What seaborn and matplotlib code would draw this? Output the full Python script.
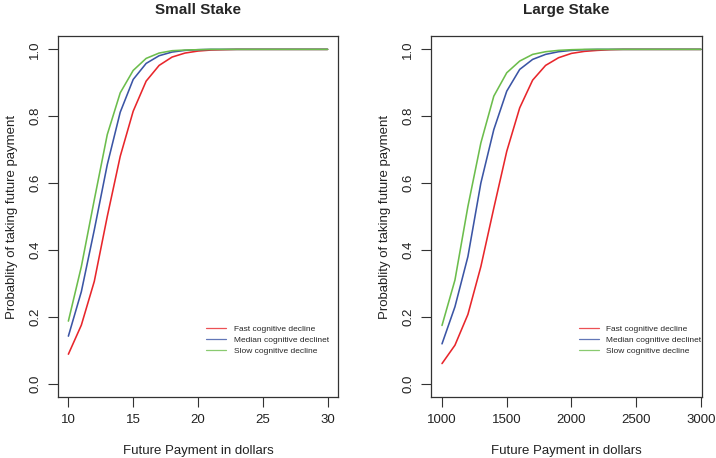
import pandas as pd
import matplotlib.pyplot as plt
import seaborn as sns
import numpy as np

# future payment amounts (x)
small_x = list(range(10, 31))
large_x = list(range(1000, 3001, 100))

# probability of taking future payment
small_fast = [0.088, 0.175, 0.306, 0.50, 0.68, 0.815, 0.905, 0.952, 0.977, 0.989, 0.995,
              0.998, 0.999, 1.0, 1.0, 1.0, 1.0, 1.0, 1.0, 1.0, 1.0]
small_median = [0.142, 0.275, 0.46, 0.655, 0.812, 0.91, 0.958, 0.981, 0.992, 0.997, 0.999,
                1.0, 1.0, 1.0, 1.0, 1.0, 1.0, 1.0, 1.0, 1.0, 1.0]
small_slow = [0.187, 0.35, 0.55, 0.745, 0.87, 0.937, 0.973, 0.989, 0.996, 0.998, 0.999,
              1.0, 1.0, 1.0, 1.0, 1.0, 1.0, 1.0, 1.0, 1.0, 1.0]

large_fast = [0.06, 0.115, 0.207, 0.35, 0.525, 0.695, 0.825, 0.908, 0.952, 0.975, 0.988,
              0.994, 0.997, 0.999, 1.0, 1.0, 1.0, 1.0, 1.0, 1.0, 1.0]
large_median = [0.119, 0.23, 0.38, 0.6, 0.76, 0.875, 0.94, 0.97, 0.985, 0.993, 0.997,
                0.999, 1.0, 1.0, 1.0, 1.0, 1.0, 1.0, 1.0, 1.0, 1.0]
large_slow = [0.174, 0.31, 0.53, 0.72, 0.86, 0.93, 0.965, 0.985, 0.993, 0.997, 0.999,
              1.0, 1.0, 1.0, 1.0, 1.0, 1.0, 1.0, 1.0, 1.0, 1.0]

groups = ["Fast cognitive decline", "Median cognitive declinet", "Slow cognitive decline"]
colors = ["#E8262B", "#3B55A5", "#6CBD4C"]
titles = ["Small Stake", "Large Stake"]


def long_df(x, series):
    frames = []
    for name, vals in zip(groups, series):
        frames.append(pd.DataFrame({"x": x, "p": vals, "group": name}))
    return pd.concat(frames, ignore_index=True)


df_small = long_df(small_x, [small_fast, small_median, small_slow])
df_large = long_df(large_x, [large_fast, large_median, large_slow])

sns.set_style("white")
plt.rcParams['font.family'] = ['Liberation Sans', 'DejaVu Sans']

fig = plt.figure(figsize=(7.16, 4.58), dpi=100)
ax1 = fig.add_axes([58 / 716, 1 - 397 / 458, 280 / 716, 361 / 458])
ax2 = fig.add_axes([431 / 716, 1 - 397 / 458, 271 / 716, 361 / 458])

panels = [(ax1, df_small, (9.2, 30.8), [10, 15, 20, 25, 30], 0.53),
          (ax2, df_large, (915, 3008), [1000, 1500, 2000, 2500, 3000], 0.546)]

for (ax, df, xlim, xt, legx), title in zip(panels, titles):
    sns.lineplot(data=df, x="x", y="p", hue="group", palette=colors,
                 linewidth=1.15, ax=ax)
    ax.set_xlim(*xlim)
    ax.set_ylim(-0.04, 1.04)
    ax.set_xticks(xt)
    ax.set_yticks([0.0, 0.2, 0.4, 0.6, 0.8, 1.0])
    ax.set_yticklabels(["0.0", "0.2", "0.4", "0.6", "0.8", "1.0"], rotation=90, va="center")
    ax.tick_params(axis="both", direction="out", length=7, width=0.8, color="#333333",
                   labelsize=9.5, labelcolor="#222222", bottom=True, left=True, pad=5)
    for s in ax.spines.values():
        s.set_color("#333333")
        s.set_linewidth(0.9)
    ax.set_title(title, fontsize=11, fontweight="bold", pad=16)
    ax.set_xlabel("Future Payment in dollars", fontsize=9.5, labelpad=14, color="#222222")
    ax.set_ylabel("Probablity of taking future payment", fontsize=9.5, labelpad=8,
                  color="#222222")
    h, l = ax.get_legend_handles_labels()
    for hh in h:
        hh.set_linewidth(0.9)
        hh.set_alpha(0.8)
    ax.legend(h, l, loc="upper left", bbox_to_anchor=(legx, 0.198), frameon=False,
              fontsize=6, handlelength=2.4, handletextpad=0.9, labelspacing=0.35,
              borderaxespad=0, borderpad=0)

fig.savefig("out.png", dpi=100)
